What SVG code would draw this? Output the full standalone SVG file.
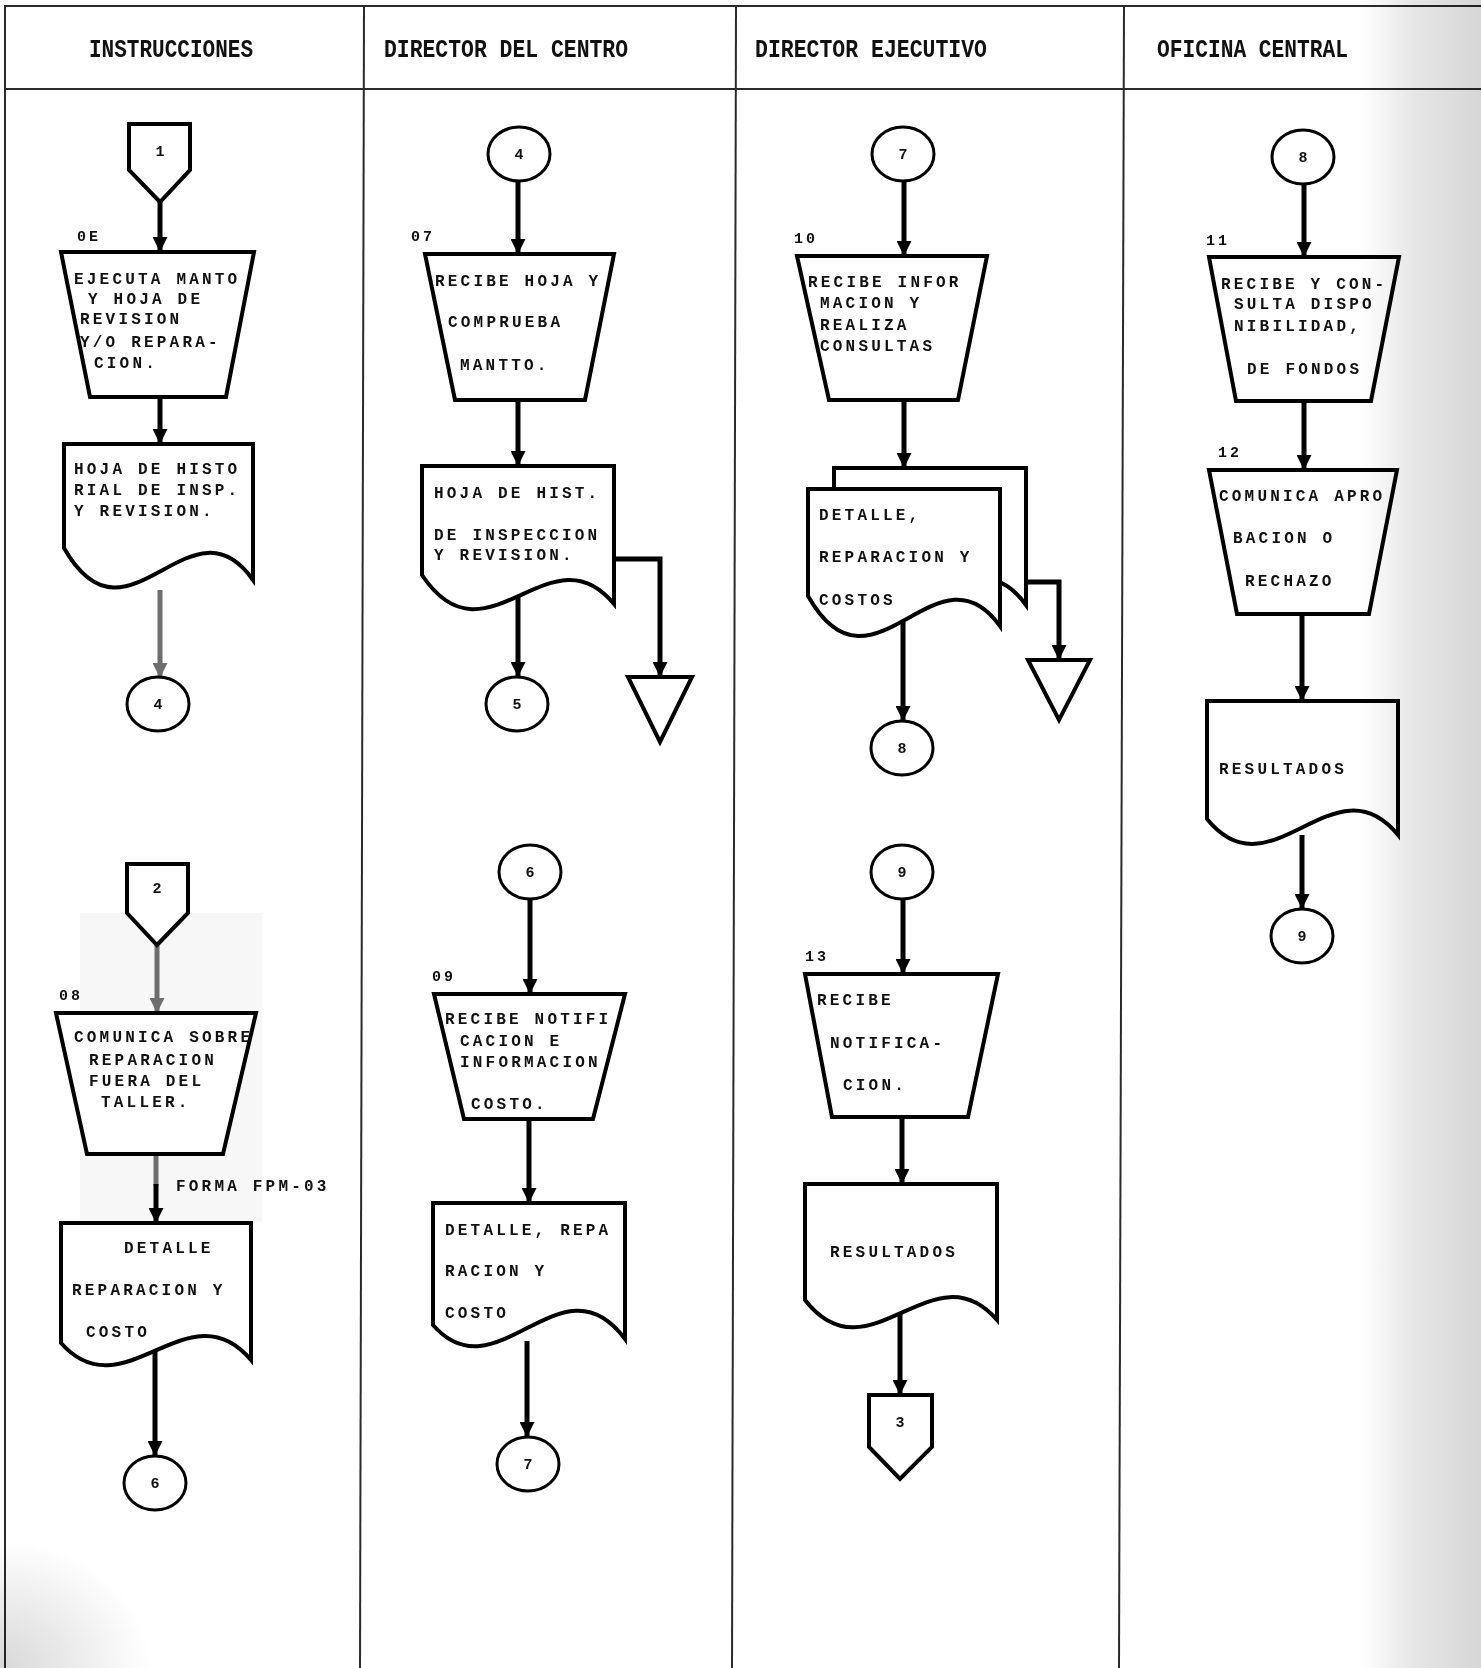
<svg xmlns="http://www.w3.org/2000/svg" width="1481" height="1668" viewBox="0 0 1481 1668">
<style>
.frame{stroke:#2a2a2a;stroke-width:2;fill:none}
.hd{font-family:"Liberation Mono","DejaVu Sans Mono",monospace;font-size:26px;font-weight:bold;fill:#111}
.t{font-family:"Liberation Mono","DejaVu Sans Mono",monospace;font-size:16px;font-weight:bold;letter-spacing:3.2px;fill:#111}
.lb{font-family:"Liberation Mono","DejaVu Sans Mono",monospace;font-size:15px;font-weight:bold;letter-spacing:3px;fill:#111}
.num{font-family:"Liberation Mono","DejaVu Sans Mono",monospace;font-size:15px;font-weight:bold;fill:#111;text-anchor:middle}
.sh{fill:#fff;stroke:#000;stroke-width:4;stroke-linejoin:miter}
.cir{fill:#fff;stroke:#000;stroke-width:3}
.cn{fill:none;stroke:#000;stroke-width:5}
.cg{fill:none;stroke:#6e6e6e;stroke-width:5}
</style>
<defs>
<marker id="ah" viewBox="0 0 15 15" refX="15" refY="7.5" markerWidth="15" markerHeight="15" markerUnits="userSpaceOnUse" orient="auto">
<path d="M0,0 L15,7.5 L0,15 Z" fill="#000"/>
</marker>
<marker id="ahg" viewBox="0 0 15 15" refX="15" refY="7.5" markerWidth="15" markerHeight="15" markerUnits="userSpaceOnUse" orient="auto">
<path d="M0,0 L15,7.5 L0,15 Z" fill="#6e6e6e"/>
</marker>
<linearGradient id="scan" x1="0" y1="0" x2="1" y2="0">
<stop offset="0" stop-color="#ffffff"/>
<stop offset="0.45" stop-color="#e6e6e6"/>
<stop offset="1" stop-color="#d6d6d6"/>
</linearGradient>
<radialGradient id="smudge" cx="0" cy="1" r="1">
<stop offset="0" stop-color="#d8d8d8"/>
<stop offset="1" stop-color="#ffffff"/>
</radialGradient>
</defs>
<rect width="1481" height="1668" fill="#fff"/>
<rect x="80" y="913" width="182" height="309" fill="#f7f7f7"/>

<g id="frame">
<line class="frame" x1="4" y1="6" x2="1481" y2="6"/>
<line class="frame" x1="4" y1="89" x2="1481" y2="89"/>
<line class="frame" x1="5" y1="6" x2="5" y2="1668"/>
<line class="frame" x1="364" y1="6" x2="360" y2="1668"/>
<line class="frame" x1="736" y1="6" x2="732" y2="1668"/>
<line class="frame" x1="1124" y1="6" x2="1119" y2="1668"/>
</g>

<g id="headers">
<text class="hd" x="89" y="57" textLength="164" lengthAdjust="spacingAndGlyphs">INSTRUCCIONES</text>
<text class="hd" x="384" y="57" textLength="244" lengthAdjust="spacingAndGlyphs">DIRECTOR DEL CENTRO</text>
<text class="hd" x="755" y="57" textLength="232" lengthAdjust="spacingAndGlyphs">DIRECTOR EJECUTIVO</text>
<text class="hd" x="1157" y="57" textLength="191" lengthAdjust="spacingAndGlyphs">OFICINA CENTRAL</text>
</g>

<g id="connectors">
<line class="cn" x1="160" y1="202" x2="160" y2="252" marker-end="url(#ah)"/>
<line class="cn" x1="160" y1="397" x2="160" y2="444" marker-end="url(#ah)"/>
<line class="cg" x1="160" y1="590" x2="160" y2="678" marker-end="url(#ahg)"/>
<line class="cg" x1="157" y1="945" x2="157" y2="1013" marker-end="url(#ahg)"/>
<line class="cg" x1="156" y1="1154" x2="156" y2="1186"/>
<line class="cn" x1="156" y1="1184" x2="156" y2="1223" marker-end="url(#ah)"/>
<line class="cn" x1="155" y1="1351" x2="155" y2="1456" marker-end="url(#ah)"/>

<line class="cn" x1="518" y1="181" x2="518" y2="254" marker-end="url(#ah)"/>
<line class="cn" x1="518" y1="400" x2="518" y2="466" marker-end="url(#ah)"/>
<line class="cn" x1="518" y1="596" x2="518" y2="677" marker-end="url(#ah)"/>
<polyline class="cn" points="614,559 660,559 660,677" marker-end="url(#ah)"/>
<line class="cn" x1="530" y1="899" x2="530" y2="994" marker-end="url(#ah)"/>
<line class="cn" x1="529" y1="1119" x2="529" y2="1203" marker-end="url(#ah)"/>
<line class="cn" x1="527" y1="1341" x2="527" y2="1437" marker-end="url(#ah)"/>

<line class="cn" x1="904" y1="181" x2="904" y2="256" marker-end="url(#ah)"/>
<line class="cn" x1="904" y1="400" x2="904" y2="468" marker-end="url(#ah)"/>
<line class="cn" x1="903" y1="622" x2="903" y2="721" marker-end="url(#ah)"/>
<polyline class="cn" points="1025,582 1059,582 1059,660" marker-end="url(#ah)"/>
<line class="cn" x1="903" y1="899" x2="903" y2="974" marker-end="url(#ah)"/>
<line class="cn" x1="902" y1="1117" x2="902" y2="1184" marker-end="url(#ah)"/>
<line class="cn" x1="900" y1="1311" x2="900" y2="1395" marker-end="url(#ah)"/>

<line class="cn" x1="1304" y1="184" x2="1304" y2="257" marker-end="url(#ah)"/>
<line class="cn" x1="1304" y1="401" x2="1304" y2="470" marker-end="url(#ah)"/>
<line class="cn" x1="1302" y1="614" x2="1302" y2="701" marker-end="url(#ah)"/>
<line class="cn" x1="1302" y1="835" x2="1302" y2="909" marker-end="url(#ah)"/>
</g>

<!-- Column 1 -->
<g id="conn-1">
<path class="sh" d="M129,124 H190 V170 L160,202 L129,170 Z"/>
<text class="num" x="160" y="156">1</text>
</g>
<g id="step-06">
<text class="lb" x="77" y="241">0E</text>
<path class="sh" d="M61,252 H254 L226,397 H90 Z"/>
<text class="t" x="74" y="284">EJECUTA MANTO</text>
<text class="t" x="88" y="304">Y HOJA DE</text>
<text class="t" x="80" y="324">REVISION</text>
<text class="t" x="80" y="347">Y/O REPARA-</text>
<text class="t" x="94" y="368">CION.</text>
</g>
<g id="doc-hoja-historial">
<path class="sh" d="M64,444 H253 V580 C190,491 127,659 64,548 Z"/>
<text class="t" x="74" y="474">HOJA DE HISTO</text>
<text class="t" x="74" y="495">RIAL DE INSP.</text>
<text class="t" x="74" y="516">Y REVISION.</text>
</g>
<g id="circle-4-out">
<ellipse class="cir" cx="158" cy="704" rx="31" ry="27"/>
<text class="num" x="158" y="709">4</text>
</g>
<g id="conn-2">
<path class="sh" d="M127,864 H188 V913 L157,945 L127,913 Z"/>
<text class="num" x="157" y="893">2</text>
</g>
<g id="step-08">
<text class="lb" x="59" y="1000">08</text>
<path class="sh" d="M56,1013 H256 L223,1154 H87 Z"/>
<text class="t" x="74" y="1042">COMUNICA SOBRE</text>
<text class="t" x="89" y="1065">REPARACION</text>
<text class="t" x="89" y="1086">FUERA DEL</text>
<text class="t" x="101" y="1107">TALLER.</text>
</g>
<text id="label-forma" class="t" x="176" y="1191">FORMA FPM-03</text>
<g id="doc-detalle-1">
<path class="sh" d="M61,1223 H251 V1360 C188,1286 124,1414 61,1343 Z"/>
<text class="t" x="124" y="1253">DETALLE</text>
<text class="t" x="72" y="1295">REPARACION Y</text>
<text class="t" x="86" y="1337">COSTO</text>
</g>
<g id="circle-6-out">
<ellipse class="cir" cx="155" cy="1483" rx="31" ry="27"/>
<text class="num" x="155" y="1488">6</text>
</g>

<!-- Column 2 -->
<g id="circle-4-in">
<ellipse class="cir" cx="519" cy="154" rx="31" ry="27"/>
<text class="num" x="519" y="159">4</text>
</g>
<g id="step-07">
<text class="lb" x="411" y="241">07</text>
<path class="sh" d="M425,254 H614 L585,400 H455 Z"/>
<text class="t" x="435" y="286">RECIBE HOJA Y</text>
<text class="t" x="448" y="327">COMPRUEBA</text>
<text class="t" x="460" y="370">MANTTO.</text>
</g>
<g id="doc-hoja-hist">
<path class="sh" d="M422,466 H614 V604 C550,526 486,671 422,575 Z"/>
<text class="t" x="434" y="498">HOJA DE HIST.</text>
<text class="t" x="434" y="540">DE INSPECCION</text>
<text class="t" x="434" y="560">Y REVISION.</text>
</g>
<g id="archive-1">
<path class="sh" d="M628,677 H692 L660,742 Z" stroke-width="3.5"/>
</g>
<g id="circle-5">
<ellipse class="cir" cx="517" cy="704" rx="31" ry="27"/>
<text class="num" x="517" y="709">5</text>
</g>
<g id="circle-6-in">
<ellipse class="cir" cx="530" cy="872" rx="31" ry="27"/>
<text class="num" x="530" y="877">6</text>
</g>
<g id="step-09">
<text class="lb" x="432" y="981">09</text>
<path class="sh" d="M434,994 H625 L593,1119 H464 Z"/>
<text class="t" x="445" y="1024">RECIBE NOTIFI</text>
<text class="t" x="460" y="1046">CACION E</text>
<text class="t" x="460" y="1067">INFORMACION</text>
<text class="t" x="471" y="1109">COSTO.</text>
</g>
<g id="doc-detalle-2">
<path class="sh" d="M433,1203 H625 V1339 C561,1253 497,1398 433,1325 Z"/>
<text class="t" x="445" y="1235">DETALLE, REPA</text>
<text class="t" x="445" y="1276">RACION Y</text>
<text class="t" x="445" y="1318">COSTO</text>
</g>
<g id="circle-7-out">
<ellipse class="cir" cx="528" cy="1464" rx="31" ry="27"/>
<text class="num" x="528" y="1469">7</text>
</g>

<!-- Column 3 -->
<g id="circle-7-in">
<ellipse class="cir" cx="903" cy="154" rx="31" ry="27"/>
<text class="num" x="903" y="159">7</text>
</g>
<g id="step-10">
<text class="lb" x="794" y="243">10</text>
<path class="sh" d="M797,256 H987 L958,400 H829 Z"/>
<text class="t" x="808" y="287">RECIBE INFOR</text>
<text class="t" x="820" y="308">MACION Y</text>
<text class="t" x="820" y="330">REALIZA</text>
<text class="t" x="820" y="351">CONSULTAS</text>
</g>
<g id="doc-multi">
<path class="sh" d="M834,468 H1026 V605 C962,517 898,688 834,575 Z"/>
<path class="sh" d="M808,489 H1000 V626 C936,538 872,709 808,596 Z"/>
<text class="t" x="819" y="520">DETALLE,</text>
<text class="t" x="819" y="562">REPARACION Y</text>
<text class="t" x="819" y="605">COSTOS</text>
</g>
<g id="archive-2">
<path class="sh" d="M1028,660 H1090 L1059,720 Z" stroke-width="3.5"/>
</g>
<g id="circle-8-out">
<ellipse class="cir" cx="902" cy="748" rx="31" ry="27"/>
<text class="num" x="902" y="753">8</text>
</g>
<g id="circle-9-in">
<ellipse class="cir" cx="902" cy="872" rx="31" ry="27"/>
<text class="num" x="902" y="877">9</text>
</g>
<g id="step-13">
<text class="lb" x="805" y="961">13</text>
<path class="sh" d="M805,974 H998 L968,1117 H832 Z"/>
<text class="t" x="817" y="1005">RECIBE</text>
<text class="t" x="830" y="1048">NOTIFICA-</text>
<text class="t" x="843" y="1090">CION.</text>
</g>
<g id="doc-resultados-1">
<path class="sh" d="M805,1184 H997 V1320 C933,1246 869,1382 805,1300 Z"/>
<text class="t" x="830" y="1257">RESULTADOS</text>
</g>
<g id="conn-3">
<path class="sh" d="M869,1395 H932 V1447 L900,1479 L869,1447 Z"/>
<text class="num" x="900" y="1427">3</text>
</g>

<!-- Column 4 -->
<g id="circle-8-in">
<ellipse class="cir" cx="1303" cy="157" rx="31" ry="27"/>
<text class="num" x="1303" y="162">8</text>
</g>
<g id="step-11">
<text class="lb" x="1206" y="245">11</text>
<path class="sh" d="M1209,257 H1399 L1371,401 H1236 Z"/>
<text class="t" x="1221" y="289">RECIBE Y CON-</text>
<text class="t" x="1234" y="309">SULTA DISPO</text>
<text class="t" x="1234" y="331">NIBILIDAD,</text>
<text class="t" x="1247" y="374">DE FONDOS</text>
</g>
<g id="step-12">
<text class="lb" x="1218" y="457">12</text>
<path class="sh" d="M1209,470 H1397 L1369,614 H1237 Z"/>
<text class="t" x="1219" y="501">COMUNICA APRO</text>
<text class="t" x="1233" y="543">BACION O</text>
<text class="t" x="1245" y="586">RECHAZO</text>
</g>
<g id="doc-resultados-2">
<path class="sh" d="M1207,701 H1398 V835 C1334,757 1271,898 1207,819 Z"/>
<text class="t" x="1219" y="774">RESULTADOS</text>
</g>
<g id="circle-9-out">
<ellipse class="cir" cx="1302" cy="936" rx="31" ry="27"/>
<text class="num" x="1302" y="941">9</text>
</g>

<rect x="1360" y="0" width="121" height="1668" fill="url(#scan)" style="mix-blend-mode:multiply"/>
<rect x="0" y="1540" width="150" height="128" fill="url(#smudge)" style="mix-blend-mode:multiply"/>
</svg>
